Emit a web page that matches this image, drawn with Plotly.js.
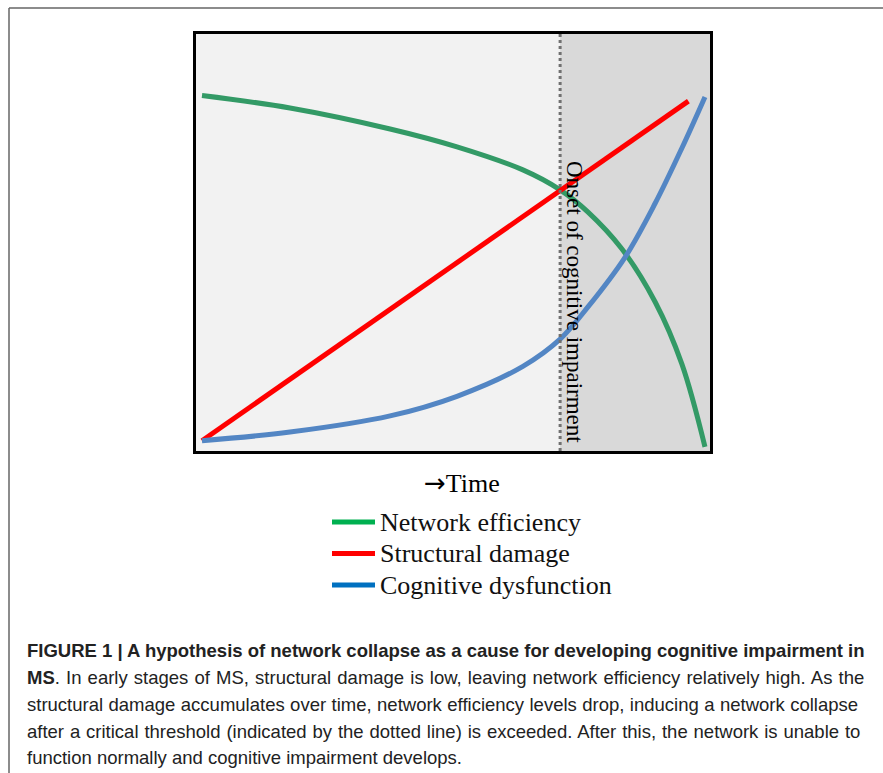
<!DOCTYPE html>
<html>
<head>
<meta charset="utf-8">
<script src="https://cdn.plot.ly/plotly-3.0.1.min.js"></script>
<style>html,body{margin:0;padding:0;background:#fff;}#chart{width:883px;height:773px;}</style>
</head>
<body>
<div id="chart"></div>
<script>
// ---- data (arbitrary units) ----
const seriesNames = ['Network efficiency', 'Structural damage', 'Cognitive dysfunction'];

const efficiencyTime = [0, 17.5, 37.4, 50.7, 63.8, 71.2, 76.7, 83.5, 90.1, 95.4, 100];
const efficiencyValue = [100.3, 96.7, 90.6, 85.4, 78.7, 72.9, 66.5, 55.7, 40.3, 22.3, -1.8];

const damageTime = [0, 96.7];
const damageValue = [0, 98.7];

const dysfunctionTime = [0, 17.5, 37.4, 50.7, 63.8, 71.2, 76.7, 84.1, 90.1, 95.4, 100];
const dysfunctionValue = [0, 2.5, 7.2, 12.9, 21.6, 29.5, 38.8, 53.3, 69.0, 85.0, 99.9];

const onsetTime = 71.2;
const onsetLabel = 'Onset of cognitive impairment';
const xAxisArrow = '\u2192';
const xAxisLabel = 'Time';

const captionLines = [
  '<b>FIGURE 1 | A hypothesis of network collapse as a cause for developing cognitive impairment in</b>',
  '<b>MS</b>. In early stages of MS, structural damage is low, leaving network efficiency relatively high. As the',
  'structural damage accumulates over time, network efficiency levels drop, inducing a network collapse',
  'after a critical threshold (indicated by the dotted line) is exceeded. After this, the network is unable to',
  'function normally and cognitive impairment develops.'
];

// ---- styles ----
const W = 883, H = 773;
const px = v => v / W;
const py = v => 1 - v / H;
const curveColors = ['#339a66', '#ff0000', '#5386c4'];
const legendColors = ['#00b050', '#ff0000', '#0070c0'];
const serif = 'Liberation Serif, Times New Roman, serif';
const sans = 'Liberation Sans, Arial, Helvetica, sans-serif';
const captionWordSpacing = [0, 1.0, 0.3, 0.75, 0];

const traces = [
  {x: efficiencyTime, y: efficiencyValue, name: seriesNames[0], mode: 'lines',
   line: {color: curveColors[0], width: 5, shape: 'spline', smoothing: 1}},
  {x: damageTime, y: damageValue, name: seriesNames[1], mode: 'lines',
   line: {color: curveColors[1], width: 5}},
  {x: dysfunctionTime, y: dysfunctionValue, name: seriesNames[2], mode: 'lines',
   line: {color: curveColors[2], width: 5, shape: 'spline', smoothing: 1}}
];

const shapes = [
  // outer figure frame (top and left edges visible)
  {type: 'line', xref: 'paper', yref: 'paper', x0: px(9), x1: px(9), y0: py(8), y1: -0.05,
   line: {color: '#666', width: 1.5}},
  {type: 'line', xref: 'paper', yref: 'paper', x0: px(9), x1: 1.05, y0: py(8), y1: py(8),
   line: {color: '#666', width: 1.5}},
  // darker region after onset
  {type: 'rect', xref: 'x', yref: 'y domain', x0: onsetTime, x1: 101.0, y0: 0, y1: 1,
   fillcolor: '#d9d9d9', line: {width: 0}, layer: 'below'},
  // onset dotted line
  {type: 'line', xref: 'x', yref: 'y domain', x0: onsetTime, x1: onsetTime, y0: 0, y1: 1,
   line: {color: '#707070', width: 3, dash: 'dot'}}
];

const annotations = [
  {xref: 'paper', yref: 'paper', x: px(575), y: py(302), xanchor: 'center', yanchor: 'middle',
   text: onsetLabel, textangle: 90, showarrow: false, font: {family: serif, size: 23, color: '#000'}},
  {xref: 'paper', yref: 'paper', x: px(462), y: py(483), xanchor: 'center', yanchor: 'middle',
   text: '<span style="font-family:DejaVu Sans">' + xAxisArrow + '</span>' + xAxisLabel,
   showarrow: false, font: {family: serif, size: 26, color: '#000'}}
];

const legendY = [522, 553.5, 585];
seriesNames.forEach((name, i) => {
  shapes.push({type: 'line', xref: 'paper', yref: 'paper', x0: px(332), x1: px(375),
    y0: py(legendY[i]), y1: py(legendY[i]), line: {color: legendColors[i], width: 5}});
  annotations.push({xref: 'paper', yref: 'paper', x: px(378), y: py(legendY[i]),
    xanchor: 'left', yanchor: 'middle', text: name, showarrow: false,
    font: {family: serif, size: 26, color: '#111'}});
});

const captionY = [650, 677, 704, 731, 757.5];
captionLines.forEach((t, i) => {
  const txt = captionWordSpacing[i] ? '<span style="word-spacing:' + captionWordSpacing[i] + 'px">' + t + '</span>' : t;
  annotations.push({xref: 'paper', yref: 'paper', x: px(25), y: py(captionY[i]),
    xanchor: 'left', yanchor: 'middle', text: txt, showarrow: false,
    font: {family: sans, size: 18.5, color: '#222'}});
});

const axisCommon = {showline: true, mirror: true, linewidth: 3, linecolor: '#000',
  showgrid: false, zeroline: false, showticklabels: false, ticks: '', fixedrange: true};

const layout = {
  width: W, height: H,
  margin: {l: 0, r: 0, t: 0, b: 0},
  paper_bgcolor: '#ffffff',
  plot_bgcolor: '#f2f2f2',
  showlegend: false,
  xaxis: Object.assign({}, axisCommon, {domain: [px(196), px(710)], range: [-1.19, 101.0]}),
  yaxis: Object.assign({}, axisCommon, {domain: [py(451), py(34)], range: [-3.0, 118.2]}),
  shapes: shapes,
  annotations: annotations
};

Plotly.newPlot('chart', traces, layout, {displayModeBar: false, staticPlot: true});
</script>
</body>
</html>
